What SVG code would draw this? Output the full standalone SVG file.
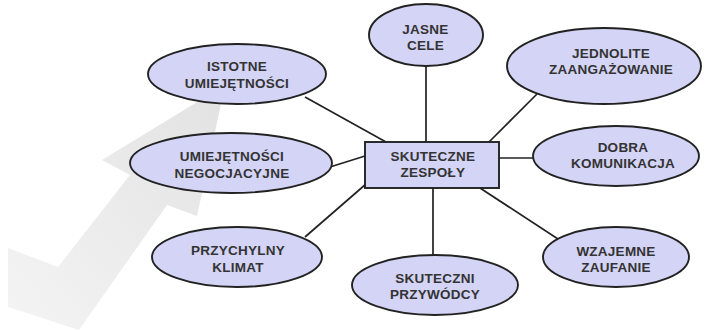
<svg xmlns="http://www.w3.org/2000/svg" width="707" height="331" viewBox="0 0 707 331">
<defs>
<linearGradient id="g" x1="0" y1="1" x2="1" y2="0">
<stop offset="0" stop-color="#f4f4f4"/>
<stop offset="1" stop-color="#e2e2e2"/>
</linearGradient>
<style>
.n ellipse,.n rect{fill:#d4d4f6;stroke:#222;stroke-width:1.9}
.c line{stroke:#222;stroke-width:1.7}
text{font-family:"Liberation Sans",Arial,sans-serif;font-weight:bold;font-size:13.5px;letter-spacing:0.25px;fill:#333;text-anchor:middle}
</style>
</defs>
<rect width="707" height="331" fill="#fff"/>
<polygon id="arrow" fill="url(#g)" points="8,248 58,267 130,175 102,160 225,85 197,216 167,205 79,330 8,307"/>
<g class="c">
<line x1="305" y1="97" x2="386" y2="142"/>
<line x1="426" y1="65" x2="426" y2="142"/>
<line x1="537" y1="94" x2="489" y2="142"/>
<line x1="499" y1="158" x2="535" y2="158"/>
<line x1="330" y1="167" x2="365" y2="156"/>
<line x1="305" y1="237" x2="366" y2="184"/>
<line x1="433" y1="188" x2="433" y2="256"/>
<line x1="480" y1="188" x2="558" y2="239"/>
</g>
<g id="istotne" class="n"><ellipse cx="237" cy="74" rx="89" ry="30"/><text x="237" y="71">ISTOTNE</text><text x="237" y="88">UMIEJĘTNOŚCI</text></g>
<g id="negocjacyjne" class="n"><ellipse cx="231" cy="163" rx="101" ry="30"/><text x="232" y="161">UMIEJĘTNOŚCI</text><text x="232" y="178">NEGOCJACYJNE</text></g>
<g id="klimat" class="n"><ellipse cx="237" cy="257" rx="85" ry="30"/><text x="238" y="255">PRZYCHYLNY</text><text x="238" y="272">KLIMAT</text></g>
<g id="jasne" class="n"><ellipse cx="426" cy="35" rx="57" ry="31"/><text x="425.5" y="34">JASNE</text><text x="425.5" y="50">CELE</text></g>
<g id="jednolite" class="n"><ellipse cx="604" cy="66" rx="97" ry="38"/><text x="611" y="58">JEDNOLITE</text><text x="611" y="74">ZAANGAŻOWANIE</text></g>
<g id="dobra" class="n"><ellipse cx="616" cy="156" rx="83" ry="30"/><text x="623" y="152">DOBRA</text><text x="623" y="168">KOMUNIKACJA</text></g>
<g id="zaufanie" class="n"><ellipse cx="616" cy="257" rx="73" ry="30"/><text x="616" y="256">WZAJEMNE</text><text x="616" y="272">ZAUFANIE</text></g>
<g id="przywodcy" class="n"><ellipse cx="435" cy="285" rx="83" ry="30"/><text x="435" y="283">SKUTECZNI</text><text x="435" y="299">PRZYWÓDCY</text></g>
<g id="zespoly" class="n"><rect x="365" y="142" width="134" height="46"/><text x="433" y="161">SKUTECZNE</text><text x="433" y="177">ZESPOŁY</text></g>
</svg>
